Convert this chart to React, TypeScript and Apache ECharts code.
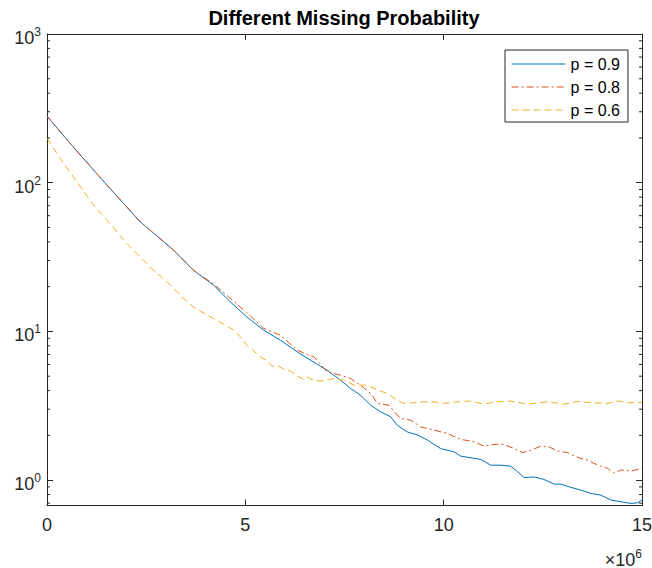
import React, { useEffect, useRef } from 'react';
import * as echarts from 'echarts';

// x values in units of 10^6
const X_P09 = [0, 0.66, 1.51, 2.35, 3.19, 3.69, 4.2, 4.62, 5.04, 5.46, 5.88, 6.31, 6.64, 7.06, 7.4, 7.65, 7.9, 8.16, 8.41, 8.66, 8.83, 9.08, 9.34, 9.59, 9.92, 10.26, 10.43, 10.77, 10.93, 11.19, 11.44, 11.69, 11.86, 12.03, 12.28, 12.53, 12.79, 12.95, 13.21, 13.46, 13.71, 13.96, 14.22, 14.47, 14.72, 14.89, 15.0];
const Y_P09 = [280, 174, 96.4, 54.6, 35.2, 25.8, 20.5, 15.8, 12.5, 10.2, 8.74, 7.29, 6.41, 5.49, 4.7, 4.14, 3.73, 3.19, 2.88, 2.67, 2.34, 2.11, 2.01, 1.86, 1.63, 1.55, 1.45, 1.4, 1.38, 1.26, 1.26, 1.24, 1.14, 1.04, 1.05, 1.01, 0.94, 0.94, 0.893, 0.857, 0.814, 0.793, 0.734, 0.715, 0.697, 0.704, 0.734];

const X_P08 = [0, 0.66, 1.51, 2.35, 3.19, 3.69, 4.2, 4.62, 5.04, 5.46, 5.88, 6.31, 6.59, 6.73, 7.06, 7.4, 7.65, 7.9, 8.16, 8.33, 8.62, 8.79, 8.91, 9.17, 9.42, 9.76, 10.09, 10.43, 10.77, 11.02, 11.27, 11.52, 11.78, 11.99, 12.2, 12.45, 12.66, 12.87, 13.12, 13.38, 13.63, 13.88, 14.13, 14.3, 14.47, 14.72, 15.0];
const Y_P08 = [280, 174, 96.4, 54.6, 35.2, 25.8, 20.8, 16.7, 13.3, 10.5, 9.44, 7.49, 6.93, 6.75, 5.35, 5.08, 4.83, 4.35, 3.83, 3.28, 3.19, 2.81, 2.6, 2.53, 2.28, 2.17, 2.06, 1.88, 1.81, 1.69, 1.74, 1.74, 1.63, 1.53, 1.59, 1.69, 1.67, 1.57, 1.53, 1.42, 1.36, 1.26, 1.2, 1.11, 1.17, 1.15, 1.2];

const X_P06 = [0, 0.33, 0.66, 1.17, 1.51, 2.01, 2.35, 2.68, 3.02, 3.4, 3.69, 3.95, 4.2, 4.45, 4.71, 4.87, 5.04, 5.38, 5.55, 5.67, 5.84, 6.01, 6.14, 6.31, 6.47, 6.56, 6.73, 6.98, 7.23, 7.48, 7.74, 8.07, 8.33, 8.58, 8.83, 9.0, 9.25, 9.5, 9.76, 10.01, 10.35, 10.68, 11.02, 11.27, 11.69, 12.11, 12.62, 13.04, 13.38, 13.8, 14.13, 14.39, 14.64, 15.0];
const Y_P06 = [199, 146, 110, 70.7, 56.0, 39.1, 31.7, 25.8, 21.6, 17.1, 14.6, 13.3, 12.2, 11.2, 10.2, 9.2, 8.09, 6.75, 6.34, 5.84, 5.84, 5.49, 5.41, 5.01, 4.76, 4.95, 4.65, 4.65, 4.83, 4.7, 4.35, 4.35, 4.03, 3.83, 3.45, 3.28, 3.31, 3.36, 3.36, 3.28, 3.36, 3.41, 3.24, 3.35, 3.4, 3.24, 3.36, 3.24, 3.38, 3.31, 3.28, 3.41, 3.31, 3.33];

const SERIES_NAMES = ['p = 0.9', 'p = 0.8', 'p = 0.6'];
const SERIES_COLORS = ['#0072BD', '#D95319', '#EDB120'];

const X_MIN = 0;
const X_MAX = 15;
const X_INTERVAL = 5;
const Y_MIN = 0.675;
const Y_MAX = 1000;
const Y_MAJOR = [1, 10, 100, 1000];
const Y_MINOR = [0.7, 0.8, 0.9, 2, 3, 4, 5, 6, 7, 8, 9, 20, 30, 40, 50, 60, 70, 80, 90, 200, 300, 400, 500, 600, 700, 800, 900];

const FONT = "'Liberation Sans', Arial, Helvetica, sans-serif";
const AXIS_COLOR = '#262626';

const pairs = (xs: number[], ys: number[]) => xs.map((x, i) => [x, ys[i]]);

const supRich = {
  n: { fontSize: 18, fontFamily: FONT, color: AXIS_COLOR, padding: [8, 0, 0, 0] },
  s: { fontSize: 12, fontFamily: FONT, color: AXIS_COLOR, padding: [5, 0, 0, 0], verticalAlign: 'top' },
};

export default function App() {
  const ref = useRef<HTMLDivElement>(null);

  useEffect(() => {
    if (!ref.current) return;
    const chart = echarts.init(ref.current, undefined, { renderer: 'svg' });
    const tickLine = { color: AXIS_COLOR, width: 1 };
    const isPow10 = (v: number) => {
      const l = Math.log10(v);
      return Math.abs(l - Math.round(l)) < 1e-6;
    };
    const yLabelFmt = (v: number) => (isPow10(v) ? `{n|10}{s|${Math.round(Math.log10(v))}}` : '');

    const lineSeries = [
      { data: pairs(X_P09, Y_P09), type: 'solid' as any },
      { data: pairs(X_P08, Y_P08), type: [7, 3, 2, 3] as any },
      { data: pairs(X_P06, Y_P06), type: [7, 4] as any },
    ].map((s, i) => ({
      name: SERIES_NAMES[i],
      type: 'line',
      data: s.data,
      symbol: 'none',
      showSymbol: false,
      xAxisIndex: 0,
      yAxisIndex: 0,
      color: SERIES_COLORS[i],
      itemStyle: { color: SERIES_COLORS[i] },
      lineStyle: { color: SERIES_COLORS[i], width: 1, type: s.type },
      z: 2 + i,
    }));

    const option: any = {
      animation: false,
      backgroundColor: '#fff',
      title: {
        text: 'Different Missing Probability',
        left: 344,
        top: 8,
        padding: 0,
        textAlign: 'center',
        textStyle: { fontSize: 20, fontWeight: 'bold', color: '#000', fontFamily: FONT },
      },
      legend: {
        data: SERIES_NAMES.map((name) => ({ name, itemStyle: { opacity: 0, borderWidth: 0 } })),
        orient: 'vertical',
        left: 505,
        top: 50,
        padding: [6, 8, 4, 6],
        itemGap: 7,
        itemWidth: 54,
        itemHeight: 14,
        itemStyle: { opacity: 0, borderWidth: 0 },
        lineStyle: { width: 1.2 },
        borderColor: AXIS_COLOR,
        borderWidth: 1,
        borderRadius: 0,
        backgroundColor: '#fff',
        textStyle: { fontSize: 16, color: '#000', fontFamily: FONT },
      },
      grid: { left: 47, right: 10, top: 34, bottom: 62.5, containLabel: false, outerBoundsMode: 'none' },
      xAxis: [
        {
          type: 'value',
          min: X_MIN,
          max: X_MAX,
          interval: X_INTERVAL,
          position: 'bottom',
          axisLine: { show: true, onZero: false, lineStyle: tickLine },
          axisTick: { show: true, inside: true, length: 6, lineStyle: tickLine },
          axisLabel: { show: true, margin: 10, fontSize: 18, color: AXIS_COLOR, fontFamily: FONT, formatter: (v: number) => String(v) },
          splitLine: { show: false },
          name: '{n|\u00d710}{s|6}',
          nameLocation: 'end',
          nameGap: 0,
          nameTextStyle: { rich: supRich, align: 'right', verticalAlign: 'top', padding: [37, 0, 0, 0] },
        },
        {
          type: 'value',
          min: X_MIN,
          max: X_MAX,
          interval: X_INTERVAL,
          position: 'top',
          axisLine: { show: true, onZero: false, lineStyle: tickLine },
          axisTick: { show: true, inside: true, length: 6, lineStyle: tickLine },
          axisLabel: { show: false },
          splitLine: { show: false },
        },
      ],
      yAxis: [
        {
          type: 'log',
          logBase: 10,
          min: Y_MIN,
          max: Y_MAX,
          position: 'left',
          axisLine: { show: true, onZero: false, lineStyle: tickLine },
          axisTick: { show: true, inside: true, length: 6, lineStyle: tickLine, customValues: Y_MAJOR },
          axisLabel: { show: true, margin: 6, customValues: Y_MAJOR, formatter: yLabelFmt, rich: supRich, showMinLabel: true, showMaxLabel: true },
          splitLine: { show: false },
          minorTick: { show: false },
        },
        {
          type: 'log',
          logBase: 10,
          min: Y_MIN,
          max: Y_MAX,
          position: 'right',
          axisLine: { show: true, onZero: false, lineStyle: tickLine },
          axisTick: { show: true, inside: true, length: 6, lineStyle: tickLine, customValues: Y_MAJOR },
          axisLabel: { show: false },
          splitLine: { show: false },
        },
      ],
      series: [
        ...lineSeries,
        {
          type: 'custom',
          name: 'minor ticks',
          xAxisIndex: 0,
          yAxisIndex: 0,
          silent: true,
          clip: false,
          z: 6,
          data: Y_MINOR.map((v) => [X_MIN, v]),
          encode: { x: 0, y: 1 },
          renderItem: (_params: any, api: any) => {
            const v = api.value(1);
            const pl = api.coord([X_MIN, v]);
            const pr = api.coord([X_MAX, v]);
            const style = { stroke: AXIS_COLOR, lineWidth: 1 };
            return {
              type: 'group',
              children: [
                { type: 'line', shape: { x1: pl[0], y1: pl[1], x2: pl[0] + 3, y2: pl[1] }, style },
                { type: 'line', shape: { x1: pr[0], y1: pr[1], x2: pr[0] - 3, y2: pr[1] }, style },
              ],
            };
          },
        },
      ],
    };

    chart.setOption(option);
    return () => chart.dispose();
  }, []);

  return <div ref={ref} style={{ position: 'absolute', left: 0, top: 0, width: 652, height: 568 }} />;
}
